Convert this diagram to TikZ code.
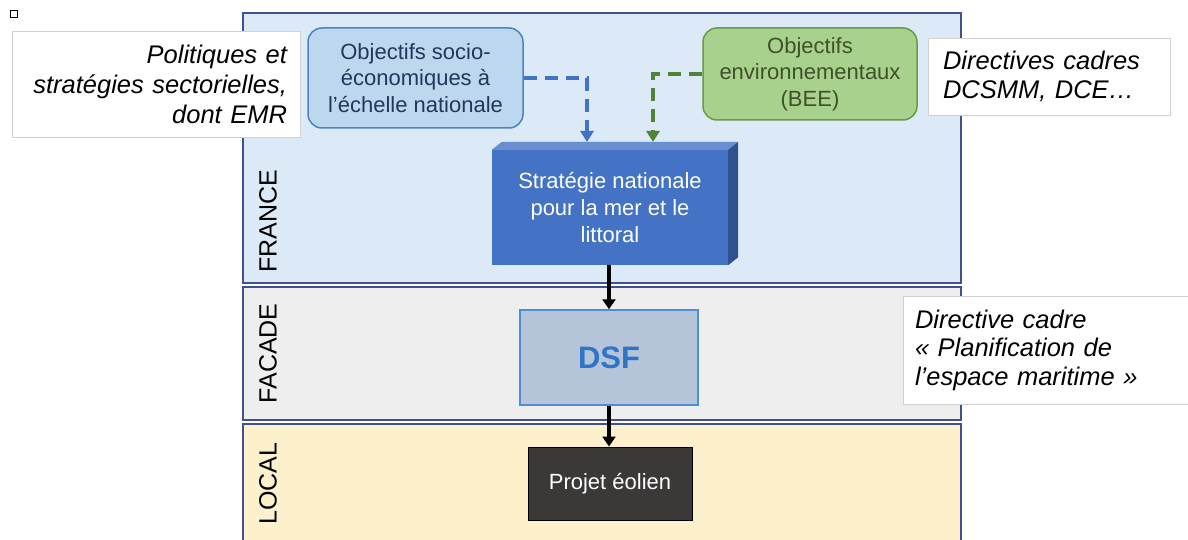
\documentclass[tikz,border=0pt]{standalone}
\usepackage{fontspec}
\setmainfont{Liberation Sans}
\usetikzlibrary{arrows.meta,calc}

\definecolor{bandborder}{HTML}{41508F}
\definecolor{francefill}{HTML}{DCE9F6}
\definecolor{facadefill}{HTML}{EEEEEE}
\definecolor{localfill}{HTML}{FDF0CD}
\definecolor{sociofill}{HTML}{BDD7EE}
\definecolor{sociodraw}{HTML}{4F81BD}
\definecolor{sociotext}{HTML}{24365A}
\definecolor{envfill}{HTML}{A9D18E}
\definecolor{envdraw}{HTML}{6A9A45}
\definecolor{envtext}{HTML}{3D5227}
\definecolor{stratfront}{HTML}{4472C4}
\definecolor{strattop}{HTML}{6A8ED2}
\definecolor{stratside}{HTML}{2F528F}
\definecolor{dashblue}{HTML}{4472C4}
\definecolor{dashgreen}{HTML}{548235}
\definecolor{dsffill}{HTML}{B5C4D9}
\definecolor{dsfdraw}{HTML}{4D8FD6}
\definecolor{dsftext}{HTML}{2E75C6}
\definecolor{projfill}{HTML}{3B3838}

\tikzset{
  band/.style={fill=#1, draw=bandborder, line width=2pt, inner sep=0pt},
  bandlabel/.style={rotate=90, font=\fontsize{25}{25}\selectfont, text=black, inner sep=0pt},
  goalbox/.style={rounded corners=14pt, line width=1.5pt, inner sep=0pt,
    align=center, font=\fontsize{22}{26.5}\selectfont},
  notebox/.style={fill=white, draw=black!18, line width=0.8pt, inner ysep=0pt,
    font=\fontsize{25.5}{28.5}\selectfont\itshape, text=black},
  flowbox/.style={inner sep=0pt, align=center},
  dashlink/.style={line width=3.5pt, dash pattern=on 13pt off 8pt,
    -{Triangle[length=11pt,width=13pt]}},
  solidlink/.style={line width=3.5pt, black, -{Triangle[length=10pt,width=13pt]}}
}

\begin{document}
\begin{tikzpicture}[x=1pt, y=-1pt]
\useasboundingbox (0,0) rectangle (1188,540);
\fill[white] (0,0) rectangle (1188,540);

% three nested levels
\node[band=francefill, minimum width=718pt, minimum height=270pt] (france) at (602,148) {};
\node[band=facadefill, minimum width=718pt, minimum height=133pt] (facade) at (602,353.5) {};
\fill[localfill] (243,424) rectangle (961,540);
\draw[bandborder, line width=2pt] (243,540) -- (243,424) -- (961,424) -- (961,540);

\node[bandlabel] (lfrance) at (268,221.5) {FRANCE};
\node[bandlabel] (lfacade) at (268,353.5) {FACADE};
\node[bandlabel] (llocal)  at (268,483.5) {LOCAL};

% small marker
\node[draw=black, fill=white, line width=1.3pt, minimum size=7pt, inner sep=0pt] (mark) at (14,14) {};

% side notes
\node[notebox, text width=262pt, inner xsep=13pt, minimum height=106pt, align=right,
      font=\fontsize{25.5}{30}\selectfont\itshape] (notepol) at (156,84)
  {Politiques et\\stratégies sectorielles,\\dont EMR};
\node[notebox, text width=212pt, inner xsep=15pt, minimum height=77pt, align=left] (notedir) at (1049,76.5)
  {Directives cadres\\DCSMM, DCE\dots};
\node[notebox, text width=261pt, inner xsep=12pt, minimum height=108pt, align=left] (notepem) at (1045.5,350)
  {Directive cadre\\« Planification de\\l’espace maritime »};

% national objectives
\node[goalbox, fill=sociofill, draw=sociodraw, text=sociotext,
      minimum width=215pt, minimum height=100pt] (socio) at (415.5,78)
  {Objectifs socio-\\économiques à\\l’échelle nationale};
\node[goalbox, fill=envfill, draw=envdraw, text=envtext,
      minimum width=214pt, minimum height=92pt] (env) at (810,74)
  {Objectifs\\environnementaux\\(BEE)};

% national strategy block (front, top and side faces)
\node[flowbox, fill=stratfront, text=white, minimum width=236pt, minimum height=115pt,
      font=\fontsize{22}{27}\selectfont] (strat) at (610,207.5)
  {Stratégie nationale\\pour la mer et le\\littoral};
\fill[strattop] (strat.north west) -- ++(10,-8) -- ($(strat.north east)+(10,-8)$)
  -- (strat.north east) -- cycle;
\fill[stratside] (strat.north east) -- ++(10,-8) -- ($(strat.south east)+(10,-8)$)
  -- (strat.south east) -- cycle;

\coordinate (sociotip) at (587,142);
\coordinate (envtip) at (653,142);

% facade and local levels
\node[flowbox, fill=dsffill, draw=dsfdraw, line width=1.5pt, minimum width=178pt, minimum height=95pt,
      font=\fontsize{31}{31}\selectfont\bfseries, text=dsftext] (dsf) at (609,357.5) {DSF};
\node[flowbox, fill=projfill, draw=black, line width=1pt, minimum width=164pt, minimum height=73pt,
      font=\fontsize{22}{26}\selectfont, text=white] (proj) at (610,483.5) {Projet éolien};

% links
\draw[dashlink, dashblue] (socio.east) -| (sociotip);
\draw[dashlink, dashgreen] (env.west) -| (envtip);
\draw[solidlink] (strat.south -| dsf.north) -- (dsf.north);
\draw[solidlink] (dsf.south) -- (dsf.south |- proj.north);
\end{tikzpicture}
\end{document}
